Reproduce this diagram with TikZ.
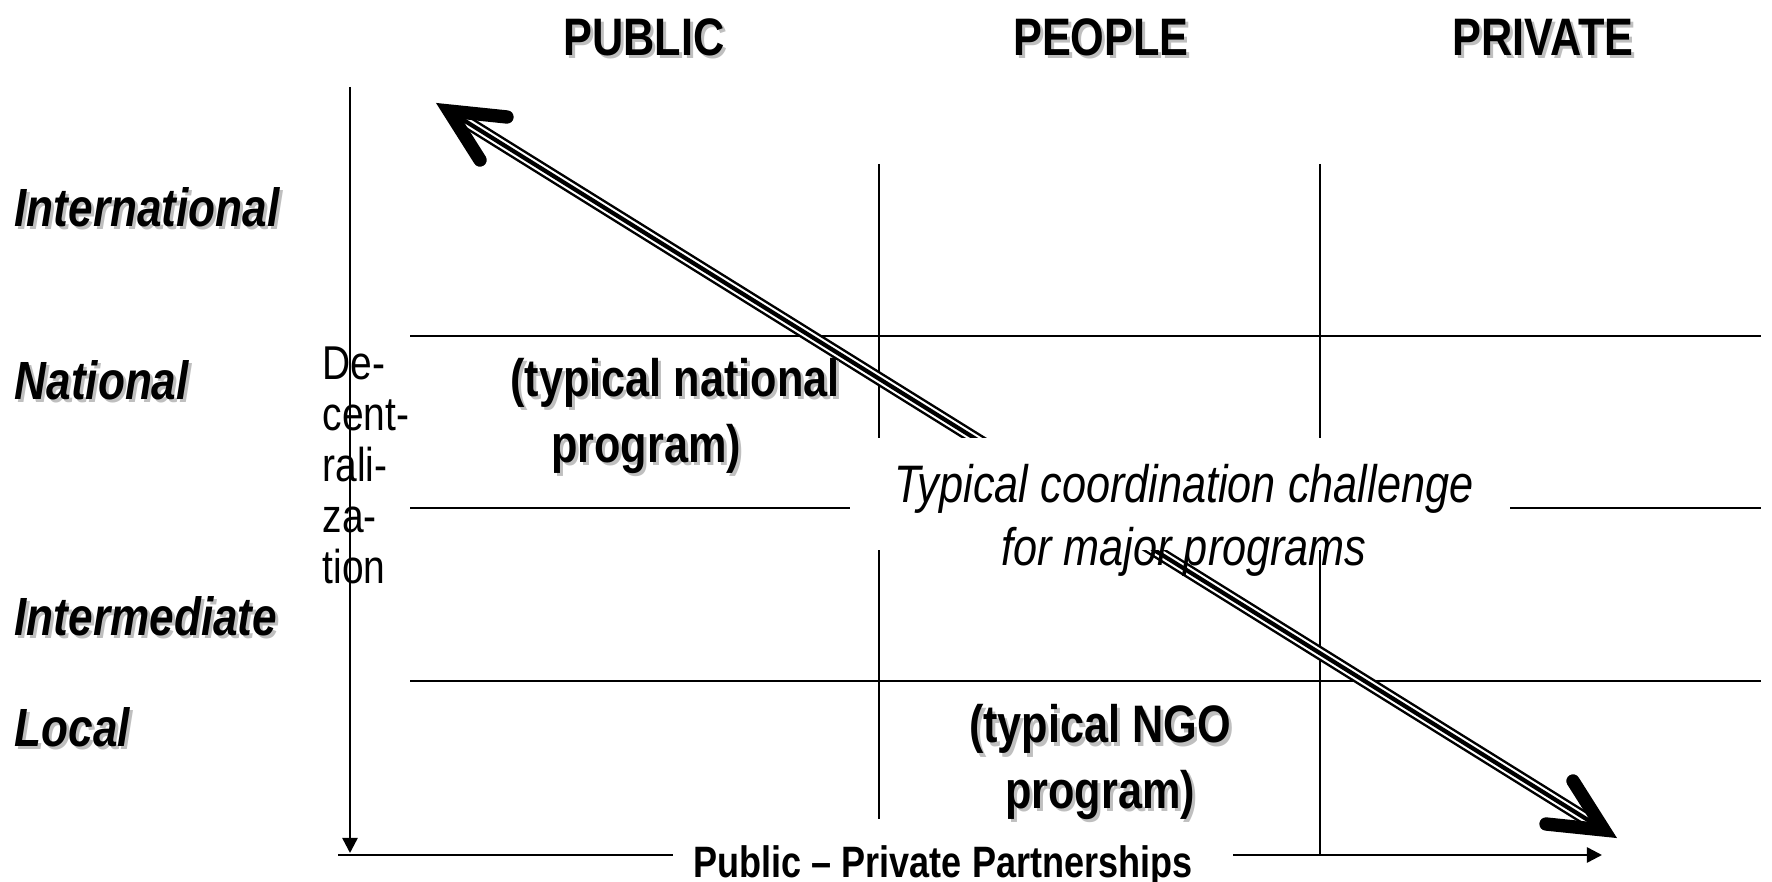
\documentclass[tikz,border=0pt]{standalone}
\usepackage{fontspec}
\setmainfont{Liberation Sans}[FakeStretch=0.82]
\usetikzlibrary{arrows.meta}

\definecolor{shadowgrey}{gray}{0.75}

% label with a soft grey drop shadow behind it
\newcommand{\shadowlabel}[4]{%
  \node[#3, text=shadowgrey, xshift=0.03cm, yshift=-0.03cm] at (#2) {#4};
  \node[#3] (#1) at (#2) {#4};}

\begin{document}
\begin{tikzpicture}[
    x=0.01cm, y=-0.01cm,
    grid/.style={line width=0.7pt},
    axis/.style={line width=0.7pt},
    axistip/.style={-{Triangle[length=4.3pt, width=4.3pt]}},
    head/.style={line width=3.8pt, line cap=round, line join=miter},
    rowlabel/.style={anchor=west, inner sep=0, font=\fontsize{15.3}{18}\selectfont\bfseries\itshape},
    header/.style={inner sep=0, font=\fontsize{15}{18}\selectfont\bfseries},
    program/.style={inner sep=0, align=center, font=\fontsize{15}{18.5}\selectfont\bfseries},
    challenge/.style={inner sep=0, align=center, font=\fontsize{15}{17.9}\selectfont\itshape}
]
    \useasboundingbox (0,0) rectangle (1772,882);

    % Column headers
    \shadowlabel{public}{644,37}{header}{PUBLIC}
    \shadowlabel{people}{1101,37}{header}{PEOPLE}
    \shadowlabel{private}{1543,37}{header}{PRIVATE}

    % Row labels
    \shadowlabel{intl}{14,207}{rowlabel}{International}
    \shadowlabel{natl}{14,380}{rowlabel}{National}
    \shadowlabel{inter}{14,616}{rowlabel}{Intermediate}
    \shadowlabel{local}{14,727}{rowlabel}{Local}

    % Grid
    \draw[grid] (410,336) -- (1761,336);
    \draw[grid] (410,508) -- (1761,508);
    \draw[grid] (410,681) -- (1761,681);
    \draw[grid] (879,164) -- (879,819);
    \draw[grid] (1320,164) -- (1320,855);

    % Axes
    \coordinate (top) at (350,87);
    \coordinate (bottom) at (350,853);
    \coordinate (orig) at (338,855);
    \coordinate (xend) at (1602,855);
    \draw[axis, axistip] (top) -- (bottom);
    \node[inner sep=0, font=\fontsize{12.5}{15}\selectfont\bfseries] (partner) at (943,866) {Public -- Private Partnerships};
    \draw[axis] (orig) -- ([xshift=-0.2cm]partner.west |- orig);
    \draw[axis, axistip] ([xshift=0.4cm]partner.east |- orig) -- (xend);
    \node[anchor=north west, inner sep=0, align=left, font=\fontsize{13.5}{14.5}\selectfont] (decent) at (322,346) {De-\\cent-\\rali-\\za-\\tion};

    % Coordination arrow
    \coordinate (tl) at (449,111);
    \coordinate (br) at (1604,830);
    \foreach \w/\c in {3.8pt/black, 2.4pt/white, 1.2pt/black}
        \draw[line width=\w, \c] (tl) -- (br);
    \draw[head] ([shift={(58,6)}]tl) -- (tl) -- ([shift={(31,49)}]tl);
    \draw[head] ([shift={(-58,-6)}]br) -- (br) -- ([shift={(-31,-49)}]br);

    % Challenge label
    \node[fill=white, inner sep=0, minimum width=6.59cm, minimum height=1.12cm] (mask) at (1180,494) {};
    \node[challenge] (challenge) at (1184,520) {Typical coordination challenge\\for major programs};

    % Typical programs
    \shadowlabel{natprog}{675,416}{program}{(typical national\\program)\hspace*{0.58cm}}
    \shadowlabel{ngoprog}{1100,762}{program}{(typical NGO\\program)}
\end{tikzpicture}
\end{document}
